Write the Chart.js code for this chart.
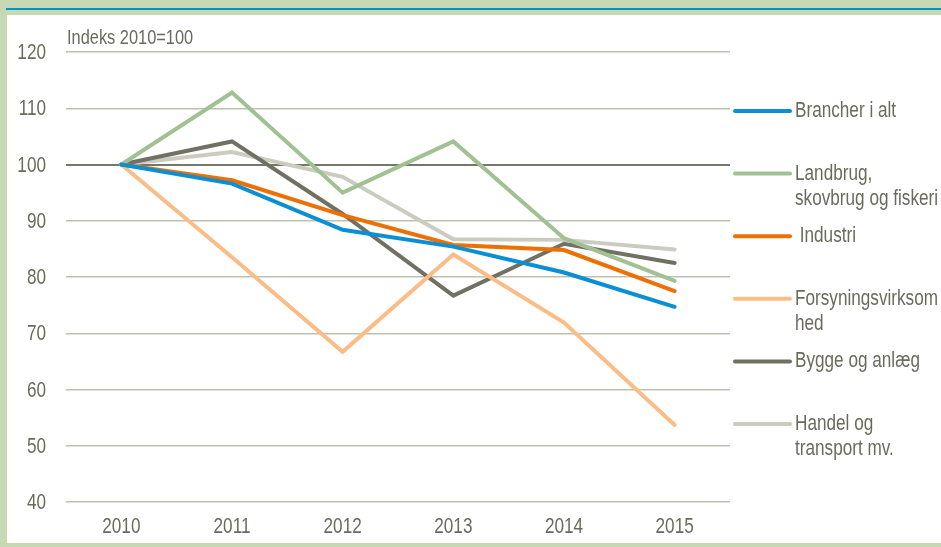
<!DOCTYPE html>
<html>
<head>
<meta charset="utf-8">
<script src="https://cdn.jsdelivr.net/npm/chart.js@4.4.1/dist/chart.umd.min.js"></script>
<style>
  html, body { margin: 0; padding: 0; }
  body { width: 941px; height: 547px; background: #c6d9b4; position: relative; overflow: hidden; }
  .topline { position: absolute; left: 6px; top: 8px; width: 935px; height: 2px; background: #0091d2; }
  .panel { position: absolute; left: 7px; top: 15px; width: 934px; height: 528px; background: #fff; }
</style>
</head>
<body>
<div class="topline"></div>
<div class="panel">
  <canvas id="indexChart" width="934" height="528"></canvas>
</div>
<script>
// aar og serier, aflaest fra figuren
const years = ["2010", "2011", "2012", "2013", "2014", "2015"];
const yTicks = [40, 50, 60, 70, 80, 90, 100, 110, 120];
const unitNote = "Indeks 2010=100";

const brancherIAlt = [100, 96.6, 88.4, 85.4, 80.8, 74.7];
const landbrug = [100, 112.8, 95.0, 104.1, 86.9, 79.3];
const industri = [100, 97.2, 91.0, 85.7, 84.8, 77.5];
const forsyning = [100, 83.5, 66.7, 84.0, 71.9, 53.7];
const byggeAnlaeg = [100, 104.1, 91.2, 76.7, 85.9, 82.5];
const handelTransport = [100, 102.2, 97.8, 86.7, 86.6, 84.9];

const textColor = "#6b6b5d";
const fontFamily = '"Liberation Sans", Arial, sans-serif';
const narrow = 0.78; // smal skrift som i originalen

function serie(label, data, color) {
    return {
        label: label,
        data: data,
        borderColor: color,
        backgroundColor: color,
        borderWidth: 4,
        tension: 0,
        pointRadius: 0,
        borderCapStyle: "round",
        fill: false,
    };
}

// tegner tekst sammenpresset vandret
function narrowText(ctx, text, x, y, align) {
    ctx.save();
    ctx.translate(x, y);
    ctx.scale(narrow, 1);
    ctx.textAlign = align;
    ctx.fillText(text, 0, 0);
    ctx.restore();
}

// akse-tekster, enhed og legende til hoejre
const narrowLabels = {
    id: "narrowLabels",
    afterDraw(chart) {
        const ctx = chart.ctx;
        const area = chart.chartArea;
        const xs = chart.scales.x;
        const ys = chart.scales.y;
        ctx.save();
        ctx.fillStyle = textColor;
        ctx.textBaseline = "middle";
        ctx.font = "22px " + fontFamily;

        ys.ticks.forEach(t => {
            narrowText(ctx, String(t.value), area.left - 20, ys.getPixelForValue(t.value) + 1, "right");
        });
        xs.ticks.forEach((t, i) => {
            narrowText(ctx, chart.data.labels[i], xs.getPixelForTick(i), area.bottom + 25, "center");
        });

        ctx.font = "21px " + fontFamily;
        narrowText(ctx, unitNote, 60, 23, "left");

        ctx.font = "22px " + fontFamily;
        const x0 = area.right + 5;
        chart.data.datasets.forEach((ds, i) => {
            const y = area.top + 59 + i * 62.6;
            ctx.strokeStyle = ds.borderColor;
            ctx.lineWidth = 4;
            ctx.lineCap = "round";
            ctx.beginPath();
            ctx.moveTo(x0, y);
            ctx.lineTo(x0 + 55, y);
            ctx.stroke();
            const lines = Array.isArray(ds.label) ? ds.label : [ds.label];
            lines.forEach((t, j) => narrowText(ctx, t, x0 + 60, y + j * 25, "left"));
        });
        ctx.restore();
    },
};

const ctx = document.getElementById("indexChart").getContext("2d");
new Chart(ctx, {
    type: "line",
    data: {
        labels: years,
        datasets: [
            serie("Brancher i alt", brancherIAlt, "#0a8fd5"),
            serie(["Landbrug,", "skovbrug og fiskeri"], landbrug, "#a1c193"),
            serie(" Industri", industri, "#ec7004"),
            serie(["Forsyningsvirksom", "hed"], forsyning, "#fbbd88"),
            serie("Bygge og anlæg", byggeAnlaeg, "#717163"),
            serie(["Handel og", "transport mv."], handelTransport, "#cbcbc0"),
        ],
    },
    options: {
        responsive: false,
        animation: false,
        layout: { padding: { top: 37, right: 211, left: 0, bottom: 0 } },
        plugins: {
            legend: { display: false },
            tooltip: { enabled: false },
        },
        scales: {
            x: {
                offset: true,
                grid: { display: false, drawTicks: false },
                border: { display: false },
                ticks: { display: false },
                afterFit(scale) { scale.height = 41; },
            },
            y: {
                min: 40,
                max: 120,
                afterBuildTicks(scale) { scale.ticks = yTicks.map(v => ({ value: v })); },
                grid: {
                    drawTicks: false,
                    color: c => (c.tick && c.tick.value === 100 ? "#76766a" : "#c0c0b0"),
                    lineWidth: c => (c.tick && c.tick.value === 100 ? 2 : 1.5),
                },
                border: { display: false },
                ticks: { display: false },
                afterFit(scale) { scale.width = 59; },
            },
        },
    },
    plugins: [narrowLabels],
});
</script>
</body>
</html>
